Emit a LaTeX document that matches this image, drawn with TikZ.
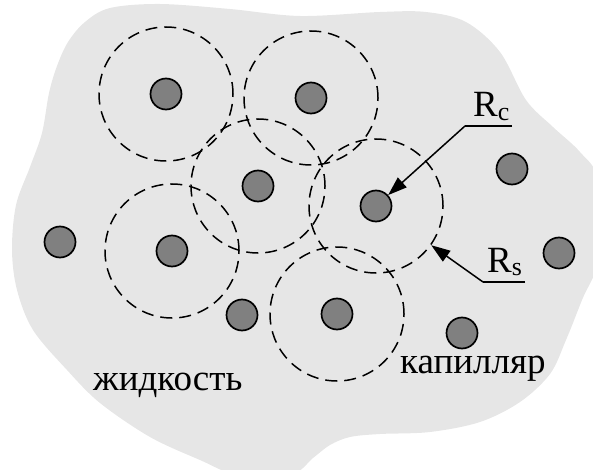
\documentclass[tikz,border=0pt]{standalone}
\usepackage{fontspec}
\setmainfont{Liberation Serif}
\usetikzlibrary{arrows.meta}
\definecolor{liquid}{gray}{0.902}
\definecolor{particle}{gray}{0.50}
\tikzset{
  grain/.style={circle, draw=black, line width=1.7pt, fill=particle,
                minimum size=31pt, inner sep=0pt},
  sphere/.style={circle, draw=black, line width=1.5pt,
                 dash pattern=on 12pt off 7pt, minimum size=134pt, inner sep=0pt},
  pointer/.style={line width=1.5pt, -{Triangle[length=19pt,width=13pt]}},
  leader/.style={line width=1.5pt},
  caption/.style={inner sep=0pt, anchor=base west,
                  font=\fontsize{37}{40}\selectfont}
}
\begin{document}
\begin{tikzpicture}[x=1pt,y=-1pt]
\useasboundingbox (0,0) rectangle (593,470);

% liquid region
\begin{scope}
\clip (0,0) rectangle (593,470);
\fill[liquid] plot[smooth cycle, tension=0.55] coordinates {
  (110,8) (160,4) (230,9) (300,16) (380,12) (426,12) (466,22) (500,52)
  (526,100) (553,127) (580,152) (598,180) (600,255) (582,300) (566,340)
  (550,374) (520,402) (480,422) (430,432) (380,434) (350,437) (330,445)
  (313,458) (292,474) (240,476) (200,460) (150,437) (100,403) (67,370)
  (33,330) (17,290) (12,250) (16,205) (30,167) (42,133) (49,93) (57,66)
  (68,42) (85,22)};
\end{scope}

% particles
\node[grain] (d1)  at (166,94)  {};
\node[grain] (d2)  at (311,98)  {};
\node[grain] (d3)  at (258,186) {};
\node[grain] (d4)  at (60,242)  {};
\node[grain] (d5)  at (172,251) {};
\node[grain] (d6)  at (376,206) {};
\node[grain] (d7)  at (512,169) {};
\node[grain] (d8)  at (559,253) {};
\node[grain] (d9)  at (242,315) {};
\node[grain] (d10) at (337,314) {};
\node[grain] (d11) at (462,333) {};

% spheres of influence
\node[sphere] (s1) at (d1)  {};
\node[sphere] (s2) at (d2)  {};
\node[sphere] (s3) at (d3)  {};
\node[sphere] (s5) at (d5)  {};
\node[sphere] (s6) at (d6)  {};
\node[sphere] (s10) at (d10) {};

% R_c leader
\coordinate (rcknee) at (465,126);
\coordinate (rcend)  at (512,126);
\draw[leader] (rcend) -- (rcknee);
\draw[pointer] (rcknee) -- (d6);
\node[caption] (rc) at (473,117) {R\textsubscript{c}};

% R_s leader
\coordinate (rsknee) at (483,282);
\coordinate (rsend)  at (525,282);
\draw[leader] (rsend) -- (rsknee);
\draw[pointer] (rsknee) -- (s6);
\node[caption] (rs) at (487,272) {R\textsubscript{s}};

% labels
\node[caption] (liq) at (93,390)  {жидкость};
\node[caption] (cap) at (400,373) {капилляр};
\end{tikzpicture}
\end{document}
